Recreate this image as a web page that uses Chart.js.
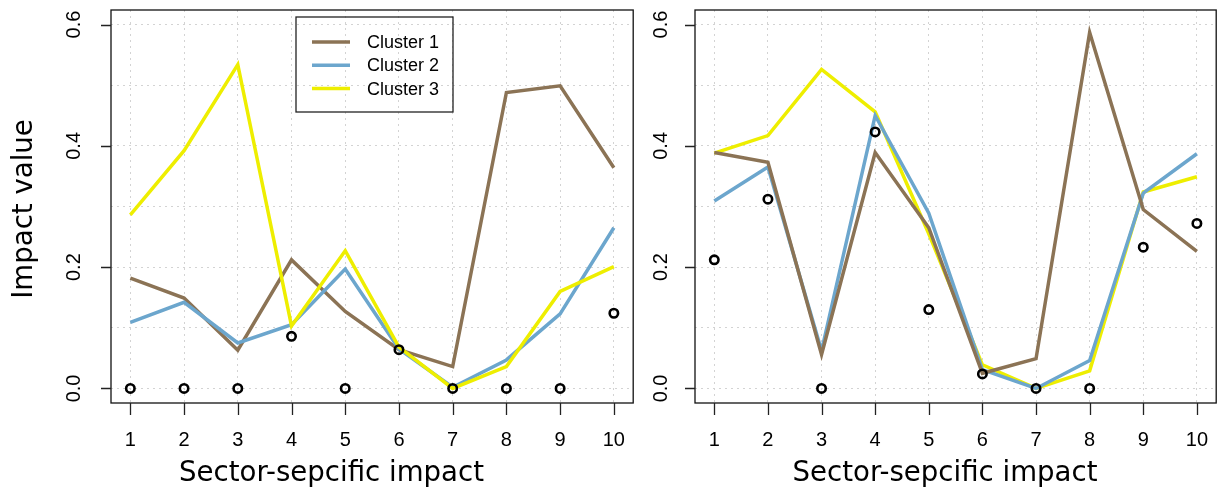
<!DOCTYPE html>
<html>
<head>
<meta charset="utf-8">
<script src="https://cdn.jsdelivr.net/npm/chart.js@4.4.0/dist/chart.umd.min.js"></script>
<style>
  body { margin: 0; background: #fff; width: 1223px; height: 492px; overflow: hidden; position: relative; }
  #graphGauche { position: absolute; left: 0; top: 0; }
  #graphDroite { position: absolute; left: 640px; top: 0; }
</style>
</head>
<body>
<canvas id="graphGauche" width="640" height="492"></canvas>
<canvas id="graphDroite" width="583" height="492"></canvas>
<script>
// secteurs (axe x) et graduations
const sectors = [1, 2, 3, 4, 5, 6, 7, 8, 9, 10];
const xTickLabels = ['1', '2', '3', '4', '5', '6', '7', '8', '9', '10'];
const yGridValues = [0, 0.1, 0.2, 0.3, 0.4, 0.5, 0.6];
const yTickValues = [0, 0.2, 0.4, 0.6];
const yTickLabels = ['0.0', '0.2', '0.4', '0.6'];
const clusterNames = ['Cluster 1', 'Cluster 2', 'Cluster 3'];

// panneau gauche
const leftCluster1 = [0.182, 0.149, 0.063, 0.212, 0.127, 0.064, 0.036, 0.488, 0.499, 0.364];
const leftCluster2 = [0.109, 0.142, 0.075, 0.105, 0.197, 0.065, 0.002, 0.047, 0.123, 0.265];
const leftCluster3 = [0.286, 0.392, 0.534, 0.103, 0.227, 0.068, 0.000, 0.036, 0.160, 0.201];
const leftObserved = [0, 0, 0, 0.086, 0, 0.064, 0, 0, 0, 0.124];

// panneau droit
const rightCluster1 = [0.389, 0.373, 0.056, 0.389, 0.265, 0.025, 0.049, 0.587, 0.295, 0.226];
const rightCluster2 = [0.309, 0.365, 0.062, 0.450, 0.289, 0.031, 0.000, 0.046, 0.322, 0.387];
const rightCluster3 = [0.388, 0.417, 0.526, 0.456, 0.255, 0.039, 0.000, 0.029, 0.324, 0.349];
const rightObserved = [0.212, 0.312, 0, 0.423, 0.130, 0.024, 0, 0, 0.233, 0.272];

const clusterColors = ['#8B7355', '#6CA6CD', '#EEEE00'];

function toPoints(values) {
  return values.map(function(v, i) { return { x: sectors[i], y: v }; });
}

function lineDataset(label, values, color, order) {
  return {
    label: label,
    data: toPoints(values),
    borderColor: color,
    backgroundColor: color,
    borderWidth: 3.5,
    pointRadius: 0,
    tension: 0,
    order: order
  };
}

function pointDataset(values) {
  return {
    label: 'observed',
    data: toPoints(values),
    showLine: false,
    pointRadius: 4.2,
    pointBorderWidth: 2.6,
    pointBorderColor: '#000',
    pointBackgroundColor: 'rgba(0,0,0,0)',
    order: 0
  };
}

function makeScales() {
  return {
    x: {
      type: 'linear', min: 0.64, max: 10.36,
      afterFit: function(s) { s.height = 0; },
      afterBuildTicks: function(s) { s.ticks = sectors.map(function(v) { return { value: v }; }); },
      grid: { color: '#d3d3d3', lineWidth: 1, drawTicks: false },
      border: { display: false, dash: [2, 4] },
      ticks: { display: false }
    },
    y: {
      type: 'linear', min: -0.024, max: 0.624,
      afterFit: function(s) { s.width = 0; },
      afterBuildTicks: function(s) { s.ticks = yGridValues.map(function(v) { return { value: v }; }); },
      grid: { color: '#d3d3d3', lineWidth: 1, drawTicks: false },
      border: { display: false, dash: [2, 4] },
      ticks: { display: false }
    }
  };
}

// cadre, graduations, etiquettes, titres et legende facon R
const rDecor = {
  id: 'rDecor',
  afterDraw: function(chart, args, opts) {
    var ctx = chart.ctx, a = chart.chartArea, xs = chart.scales.x, ys = chart.scales.y;
    ctx.save();
    ctx.setLineDash([]);
    ctx.strokeStyle = '#111';
    ctx.lineWidth = 1.3;
    ctx.strokeRect(a.left, a.top, a.right - a.left, a.bottom - a.top);

    // graduations
    ctx.strokeStyle = '#222';
    ctx.beginPath();
    sectors.forEach(function(v) {
      var px = Math.round(xs.getPixelForValue(v)) + 0.5;
      ctx.moveTo(px, a.bottom);
      ctx.lineTo(px, a.bottom + 12);
    });
    yTickValues.forEach(function(v) {
      var py = Math.round(ys.getPixelForValue(v)) + 0.5;
      ctx.moveTo(a.left, py);
      ctx.lineTo(a.left - 10, py);
    });
    ctx.stroke();

    ctx.fillStyle = '#000';
    ctx.font = '20px "Liberation Sans"';
    ctx.textAlign = 'center';
    ctx.textBaseline = 'alphabetic';
    sectors.forEach(function(v, i) {
      ctx.fillText(xTickLabels[i], xs.getPixelForValue(v), 446);
    });
    yTickValues.forEach(function(v, i) {
      ctx.save();
      ctx.translate(a.left - opts.yLabelGap, ys.getPixelForValue(v));
      ctx.rotate(-Math.PI / 2);
      ctx.fillText(yTickLabels[i], 0, 0);
      ctx.restore();
    });

    ctx.font = '27.6px "DejaVu Sans"';
    ctx.fillText('Sector-sepcific impact', opts.xTitleX, 481);

    if (opts.yTitle) {
      ctx.save();
      ctx.translate(32, 209);
      ctx.rotate(-Math.PI / 2);
      ctx.fillText(opts.yTitle, 0, 0);
      ctx.restore();
    }

    if (opts.legend) {
      var L = opts.legend;
      ctx.strokeStyle = '#222';
      ctx.lineWidth = 1.3;
      ctx.strokeRect(L.x, L.y, L.w, L.h);
      ctx.font = '18px "Liberation Sans"';
      ctx.textAlign = 'left';
      ctx.textBaseline = 'middle';
      clusterNames.forEach(function(name, i) {
        var yy = L.y + 25 + i * 23.3;
        ctx.strokeStyle = clusterColors[i];
        ctx.lineWidth = 3.5;
        ctx.beginPath();
        ctx.moveTo(L.x + 16, yy);
        ctx.lineTo(L.x + 54, yy);
        ctx.stroke();
        ctx.fillStyle = '#000';
        ctx.fillText(name, L.x + 71, yy + 1);
      });
    }
    ctx.restore();
  }
};

var ctxG = document.getElementById('graphGauche').getContext('2d');
var graphGauche = new Chart(ctxG, {
  type: 'line',
  data: {
    datasets: [
      pointDataset(leftObserved),
      lineDataset(clusterNames[2], leftCluster3, clusterColors[2], 1),
      lineDataset(clusterNames[1], leftCluster2, clusterColors[1], 2),
      lineDataset(clusterNames[0], leftCluster1, clusterColors[0], 3)
    ]
  },
  options: {
    responsive: false,
    animation: false,
    devicePixelRatio: 1,
    layout: { padding: { left: 111, right: 4, top: 10, bottom: 89 } },
    scales: makeScales(),
    plugins: {
      legend: { display: false },
      tooltip: { enabled: false },
      rDecor: {
        yLabelGap: 31,
        xTitleX: 331.5,
        yTitle: 'Impact value',
        legend: { x: 296, y: 17, w: 157, h: 95 }
      }
    }
  },
  plugins: [rDecor]
});

var ctxD = document.getElementById('graphDroite').getContext('2d');
var graphDroite = new Chart(ctxD, {
  type: 'line',
  data: {
    datasets: [
      pointDataset(rightObserved),
      lineDataset(clusterNames[0], rightCluster1, clusterColors[0], 1),
      lineDataset(clusterNames[1], rightCluster2, clusterColors[1], 2),
      lineDataset(clusterNames[2], rightCluster3, clusterColors[2], 3)
    ]
  },
  options: {
    responsive: false,
    animation: false,
    devicePixelRatio: 1,
    layout: { padding: { left: 55, right: 2, top: 10, bottom: 89 } },
    scales: makeScales(),
    plugins: {
      legend: { display: false },
      tooltip: { enabled: false },
      rDecor: {
        yLabelGap: 28.5,
        xTitleX: 305,
        yTitle: null,
        legend: null
      }
    }
  },
  plugins: [rDecor]
});
</script>
</body>
</html>
